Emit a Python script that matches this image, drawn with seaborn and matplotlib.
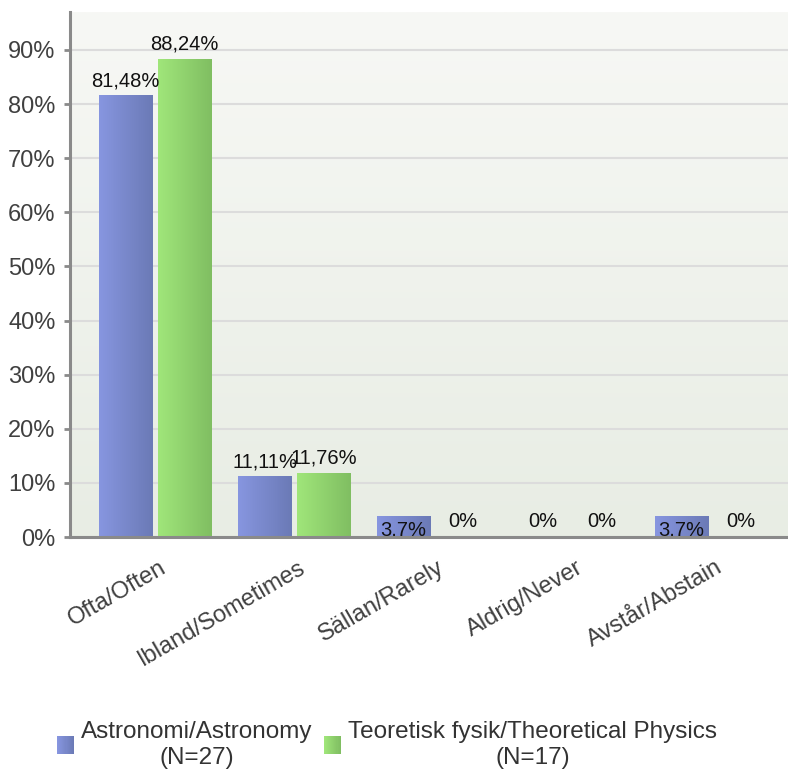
import numpy as np
import pandas as pd
import matplotlib
matplotlib.use("Agg")
import matplotlib.pyplot as plt
import matplotlib.transforms as mtransforms
import seaborn as sns
from matplotlib.patches import Rectangle
from matplotlib.colors import LinearSegmentedColormap
from matplotlib.legend_handler import HandlerBase

# ---- data ----
categories = ["Ofta/Often", "Ibland/Sometimes", "Sällan/Rarely", "Aldrig/Never", "Avstår/Abstain"]
series_names = ["Astronomi/Astronomy\n(N=27)", "Teoretisk fysik/Theoretical Physics\n(N=17)"]
astronomy = [81.48, 11.11, 3.7, 0, 3.7]
theoretical = [88.24, 11.76, 0, 0, 0]
astronomy_labels = ["81,48%", "11,11%", "3.7%", "0%", "3.7%"]
theoretical_labels = ["88,24%", "11,76%", "0%", "0%", "0%"]
ytick_values = [0, 10, 20, 30, 40, 50, 60, 70, 80, 90]
ytick_labels = [f"{v}%" for v in ytick_values]

df = pd.DataFrame({
    "category": categories * 2,
    "value": astronomy + theoretical,
    "series": [series_names[0]] * 5 + [series_names[1]] * 5,
})

blue_grad = ("#8796e0", "#6b7ab6")
green_grad = ("#a0e67a", "#80be62")

sns.set_theme(style="white")
plt.rcParams["font.family"] = ["Liberation Sans", "DejaVu Sans"]

W, H = 788, 775
fig = plt.figure(figsize=(W / 100, H / 100), dpi=100)
fig.patch.set_facecolor("white")
ax = fig.add_axes([70 / W, 1 - 537 / H, (W - 70) / W, (537 - 12) / H])

sns.barplot(data=df, x="category", y="value", hue="series",
            palette=[blue_grad[0], green_grad[0]], width=0.85, gap=0.1,
            ax=ax, legend=False, order=categories, hue_order=series_names,
            saturation=1)

# background gradient
bg = np.linspace(0, 1, 256).reshape(-1, 1)
bg_cmap = LinearSegmentedColormap.from_list("bg", ["#e8ede4", "#f7f8f5"])
ax.imshow(bg, extent=[0, 1, 0, 1], transform=ax.transAxes, aspect="auto",
          cmap=bg_cmap, origin="lower", zorder=-1)

# gradient bars + labels
hgrad = np.linspace(0, 1, 256).reshape(1, -1)
all_labels = [astronomy_labels, theoretical_labels]
for cont, grad, labels in zip(ax.containers, [blue_grad, green_grad], all_labels):
    cmap = LinearSegmentedColormap.from_list("g", list(grad))
    for bar, lab in zip(cont, labels):
        x, w, h = bar.get_x(), bar.get_width(), bar.get_height()
        if h > 0:
            ax.imshow(hgrad, extent=[x, x + w, 0, h], cmap=cmap, aspect="auto",
                      zorder=1.5)
        bar.set_facecolor("none")
        bar.set_edgecolor("none")
        if lab == "3.7%":
            off = -10
        else:
            off = 11
        ax.annotate(lab, (x + w / 2, h), xytext=(0, off), textcoords="offset points",
                    ha="center", va="center", fontsize=14.5, color="#111111", zorder=2)

ax.set_xlim(-0.612, 4.554)
ax.set_ylim(0, 97.0)

ax.set_yticks(ytick_values)
ax.set_yticklabels(ytick_labels)
ax.yaxis.grid(True, color="#dcdcdc", lw=1.5)
ax.set_axisbelow(True)
ax.set_xlabel("")
ax.set_ylabel("")

for s in ["top", "right"]:
    ax.spines[s].set_visible(False)
for s in ["left", "bottom"]:
    ax.spines[s].set_color("#8a8a8a")
    ax.spines[s].set_linewidth(2.2)
    ax.spines[s].set_zorder(3)

ax.tick_params(axis="y", left=True, length=4.5, width=2, color="#8a8a8a",
               labelsize=17, labelcolor="#404040", pad=6)
ax.tick_params(axis="x", bottom=False, length=0, labelsize=17,
               labelcolor="#404040", pad=14)
offset = mtransforms.ScaledTranslation(4 / 100, 0, fig.dpi_scale_trans)
for t in ax.get_xticklabels():
    t.set_rotation(30)
    t.set_ha("right")
    t.set_va("top")
    t.set_rotation_mode("anchor")
    t.set_transform(t.get_transform() + offset)


class GradHandler(HandlerBase):
    def __init__(self, c0, c1, n=16):
        super().__init__()
        self.cmap = LinearSegmentedColormap.from_list("lg", [c0, c1])
        self.n = n

    def create_artists(self, legend, orig_handle, xdescent, ydescent, width,
                       height, fontsize, trans):
        arts = []
        for i in range(self.n):
            r = Rectangle((-xdescent + i * width / self.n, -ydescent),
                          width / self.n * 1.08, height,
                          facecolor=self.cmap(i / (self.n - 1)), edgecolor="none",
                          transform=trans)
            arts.append(r)
        return arts


h1 = Rectangle((0, 0), 1, 1)
h2 = Rectangle((0, 0), 1, 1)
leg = fig.legend([h1, h2], series_names, loc="center",
                 bbox_to_anchor=(387 / W, 1 - 745 / H), ncol=2, frameon=False,
                 fontsize=17.5, handlelength=0.7, handleheight=0.7,
                 handletextpad=0.3, columnspacing=0.45,
                 handler_map={h1: GradHandler(*blue_grad), h2: GradHandler(*green_grad)})
for t in leg.get_texts():
    t.set_multialignment("center")
    t.set_color("#333333")

fig.savefig("out.png", dpi=100)
